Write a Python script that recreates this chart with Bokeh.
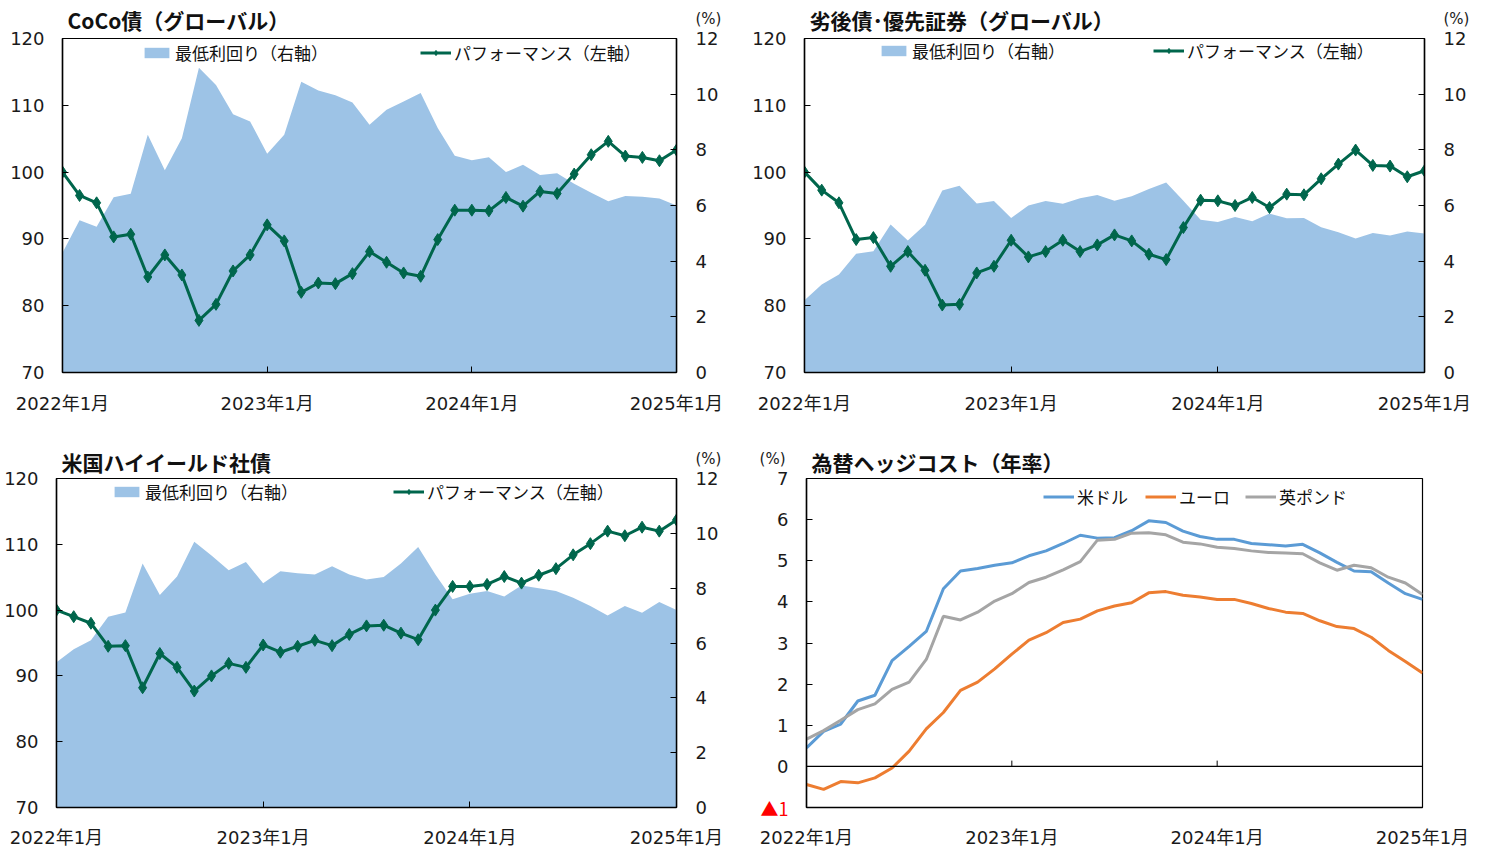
from bokeh.plotting import figure
from bokeh.models import Range1d, LinearAxis, FixedTicker, Legend, LegendItem, Span, Title
from bokeh.layouts import column, row
from bokeh.embed import file_html
from bokeh.resources import INLINE

# ---------------- data ----------------
months = [f"{y}-{m:02d}" for y in (2022, 2023, 2024) for m in range(1, 13)] + ["2025-01"]
x_tick_pos = [0, 12, 24, 36]
x_tick_labels = ["2022年1月", "2023年1月", "2024年1月", "2025年1月"]

coco_perf = [100.0, 96.5, 95.4, 90.3, 90.7, 84.3, 87.6, 84.6, 77.8, 80.2, 85.2, 87.6, 92.1, 89.7, 82.0,
             83.4, 83.3, 84.8, 88.1, 86.5, 84.9, 84.4, 89.9, 94.3, 94.3, 94.2, 96.2, 94.9, 97.1, 96.8,
             99.7, 102.6, 104.6, 102.4, 102.2, 101.7, 103.3]
coco_yield = [4.3, 5.47, 5.24, 6.3, 6.42, 8.54, 7.27, 8.42, 10.95, 10.33, 9.28, 9.02, 7.86, 8.54, 10.45,
              10.13, 9.96, 9.7, 8.9, 9.44, 9.74, 10.04, 8.78, 7.79, 7.63, 7.73, 7.2, 7.46, 7.1, 7.16,
              6.78, 6.46, 6.15, 6.34, 6.31, 6.25, 6.0]

sub_perf = [100.0, 97.3, 95.4, 89.9, 90.2, 85.9, 88.1, 85.3, 80.1, 80.2, 84.9, 85.9, 89.8, 87.3, 88.1,
            89.8, 88.1, 89.1, 90.6, 89.7, 87.7, 86.9, 91.7, 95.8, 95.7, 95.0, 96.2, 94.7, 96.7, 96.6,
            99.0, 101.2, 103.3, 101.0, 100.9, 99.3, 100.2]
sub_yield = [2.6, 3.16, 3.52, 4.27, 4.36, 5.32, 4.74, 5.31, 6.54, 6.71, 6.07, 6.16, 5.55, 6.0, 6.16,
             6.06, 6.26, 6.38, 6.17, 6.33, 6.59, 6.83, 6.17, 5.49, 5.41, 5.59, 5.43, 5.71, 5.54, 5.55,
             5.22, 5.04, 4.81, 5.01, 4.92, 5.07, 4.99]

hy_perf = [100.0, 99.0, 98.0, 94.5, 94.6, 88.2, 93.4, 91.3, 87.7, 90.0, 91.9, 91.3, 94.7, 93.6, 94.5,
           95.4, 94.6, 96.3, 97.6, 97.7, 96.5, 95.5, 100.0, 103.6, 103.6, 103.9, 105.1, 104.1, 105.3, 106.3,
           108.4, 110.1, 112.0, 111.3, 112.6, 112.0, 113.7]
hy_yield = [5.3, 5.77, 6.1, 6.96, 7.11, 8.9, 7.75, 8.43, 9.69, 9.19, 8.65, 8.95, 8.18, 8.62, 8.54,
            8.5, 8.8, 8.5, 8.32, 8.41, 8.9, 9.5, 8.5, 7.6, 7.8, 7.9, 7.7, 8.1, 8.0, 7.9,
            7.65, 7.35, 7.0, 7.35, 7.1, 7.5, 7.2]

usd = [0.45, 0.85, 1.03, 1.59, 1.73, 2.57, 2.92, 3.28, 4.32, 4.75, 4.81, 4.89, 4.95, 5.12, 5.24,
       5.42, 5.62, 5.55, 5.56, 5.73, 5.97, 5.93, 5.72, 5.59, 5.52, 5.52, 5.42, 5.39, 5.36, 5.4,
       5.19, 4.96, 4.75, 4.73, 4.46, 4.2, 4.06]
eur = [-0.44, -0.56, -0.37, -0.4, -0.28, -0.04, 0.37, 0.91, 1.31, 1.85, 2.05, 2.37, 2.73, 3.07, 3.25,
       3.5, 3.58, 3.78, 3.9, 3.98, 4.22, 4.25, 4.16, 4.12, 4.06, 4.06, 3.96, 3.84, 3.75, 3.72,
       3.54, 3.4, 3.35, 3.14, 2.82, 2.55, 2.27]
gbp = [0.66, 0.87, 1.12, 1.38, 1.52, 1.87, 2.05, 2.6, 3.65, 3.56, 3.75, 4.02, 4.2, 4.47, 4.6,
       4.78, 4.98, 5.5, 5.52, 5.67, 5.68, 5.63, 5.45, 5.41, 5.33, 5.3, 5.24, 5.2, 5.19, 5.17,
       4.95, 4.77, 4.89, 4.83, 4.6, 4.46, 4.18]

left_ticks = [70, 80, 90, 100, 110, 120]
right_ticks = [0, 2, 4, 6, 8, 10, 12]
hedge_ticks = [-1, 0, 1, 2, 3, 4, 5, 6, 7]

xs = list(range(len(months)))

# ---------------- style ----------------
NUM_FONT = "'DejaVu Sans', 'Noto Sans CJK JP'"
JP_FONT = "'Noto Sans CJK JP'"
AREA_C = "#9DC3E6"
GREEN = "#00664C"
TICK_FS = "18px"
PCT_TEXT = "(%)\n \n "


def style_axis(ax, standoff):
    ax.axis_line_color = "black"
    ax.axis_line_width = 1.5
    ax.major_tick_in = 6
    ax.major_tick_out = 0
    ax.major_tick_line_color = "black"
    ax.minor_tick_line_color = None
    ax.major_label_text_font = NUM_FONT
    ax.major_label_text_font_size = TICK_FS
    ax.major_label_text_color = "#1a1a1a"
    ax.major_label_standoff = standoff


def label_axis(p, side, tick, text, standoff, size, color="#1a1a1a", range_name="default",
               font=NUM_FONT, line_height=1.1):
    ax = LinearAxis(y_range_name=range_name, ticker=FixedTicker(ticks=[tick]),
                    major_label_overrides={tick: text})
    ax.axis_line_color = None
    ax.major_tick_line_color = None
    ax.minor_tick_line_color = None
    ax.major_label_text_font = font
    ax.major_label_text_font_size = size
    ax.major_label_text_color = color
    ax.major_label_text_line_height = line_height
    ax.major_label_standoff = standoff
    p.add_layout(ax, side)


def base_fig(w, h, bl, br, bt, bb, yr, yticks, xstand, title, title_valign, x_lh):
    p = figure(width=w, height=h, x_range=Range1d(0, 36), y_range=Range1d(*yr),
               output_backend="svg", toolbar_location=None, title=None,
               min_border_left=bl, min_border_right=br, min_border_top=bt, min_border_bottom=bb)
    p.add_layout(Title(text=title, align="left", offset=5, standoff=4, vertical_align=title_valign,
                       text_font=JP_FONT, text_font_size="21px", text_font_style="bold",
                       text_color="#111111"), "above")
    p.xgrid.visible = False
    p.ygrid.visible = False
    p.outline_line_color = "black"
    p.outline_line_width = 1.2
    p.background_fill_color = "white"
    p.border_fill_color = "white"
    p.xaxis.ticker = FixedTicker(ticks=x_tick_pos)
    p.xaxis.major_label_overrides = {t: s for t, s in zip(x_tick_pos, x_tick_labels)}
    p.yaxis.ticker = FixedTicker(ticks=yticks)
    style_axis(p.xaxis[0], xstand)
    p.xaxis.major_label_text_line_height = x_lh
    style_axis(p.yaxis[0], 18)
    return p


def add_legend(p, label, renderers, loc):
    leg = Legend(items=[LegendItem(label=label, renderers=renderers)], location=loc,
                 orientation="horizontal", padding=0, margin=0, spacing=0,
                 border_line_color=None, background_fill_alpha=0,
                 label_text_font=JP_FONT, label_text_font_size="17px",
                 label_text_color="#111111",
                 glyph_width=31, glyph_height=13, label_standoff=3, label_height=20)
    p.add_layout(leg)


def yield_panel(title, perf, yld, w, h, bl, br, bt, bb, xstand, title_valign, x_lh,
                leg_area_x, leg_line_x, leg_y):
    p = base_fig(w, h, bl, br, bt, bb, (70, 120), left_ticks, xstand, title, title_valign, x_lh)
    p.extra_y_ranges = {"r": Range1d(0, 12)}
    rax = LinearAxis(y_range_name="r", ticker=FixedTicker(ticks=right_ticks))
    style_axis(rax, 19)
    p.add_layout(rax, "right")
    label_axis(p, "right", 12, PCT_TEXT, -32, "15px", range_name="r")
    area = p.varea(x=xs, y1=[0] * len(xs), y2=yld, fill_color=AREA_C, y_range_name="r")
    ln = p.line(xs, perf, line_color=GREEN, line_width=3)
    sc = p.scatter(xs, perf, marker="diamond", size=12, fill_color=GREEN, line_color=GREEN)
    add_legend(p, "最低利回り（右軸）", [area], (leg_area_x, leg_y))
    add_legend(p, "パフォーマンス（左軸）", [ln, sc], (leg_line_x, leg_y))
    return p


# top-left: frame x 62-676, y 37-372
p1 = yield_panel("CoCo債（グローバル）", coco_perf, coco_yield,
                 740, 430, 62, 64, 37, 58, 20, "top", 1.2, 79, 358, 307)
# top-right: frame x 804-1424, y 38-374
p2 = yield_panel("劣後債･優先証券（グローバル）", sub_perf, sub_yield,
                 749, 430, 64, 65, 38, 56, 20, "top", 1.2, 74, 349, 309)
# bottom-left: frame x 56-676, y 477-810
p3 = yield_panel("米国ハイイールド社債", hy_perf, hy_yield,
                 740, 420, 56, 64, 47, 40, 19, "bottom", 1.0, 55, 337, 303)

# bottom-right: hedge cost, frame x 806-1422, y 478-810
p4 = base_fig(749, 420, 66, 67, 48, 40, (-1, 7), hedge_ticks, 19, "為替ヘッジコスト（年率）",
              "bottom", 1.0)
p4.yaxis.major_label_overrides = {-1: ""}
p4.xaxis.major_tick_line_color = None
label_axis(p4, "left", -1, "▲1", -20, TICK_FS, color="red", font=JP_FONT, line_height=1.2)
label_axis(p4, "left", 7, PCT_TEXT, -34, "15px")
p4.add_layout(Span(location=0, dimension="width", line_color="black", line_width=1.2))
p4.segment(x0=x_tick_pos, y0=[0] * 4, x1=x_tick_pos, y1=[0.14] * 4, line_color="black", line_width=1)
r_usd = p4.line(xs, usd, line_color="#5B9BD5", line_width=3)
r_eur = p4.line(xs, eur, line_color="#ED7D31", line_width=3)
r_gbp = p4.line(xs, gbp, line_color="#A5A5A5", line_width=3)
add_legend(p4, "米ドル", [r_usd], (237, 298))
add_legend(p4, "ユーロ", [r_eur], (339, 298))
add_legend(p4, "英ポンド", [r_gbp], (439, 298))

layout = column(row(p1, p2), row(p3, p4))
open("out.html", "w").write(file_html(layout, INLINE))
